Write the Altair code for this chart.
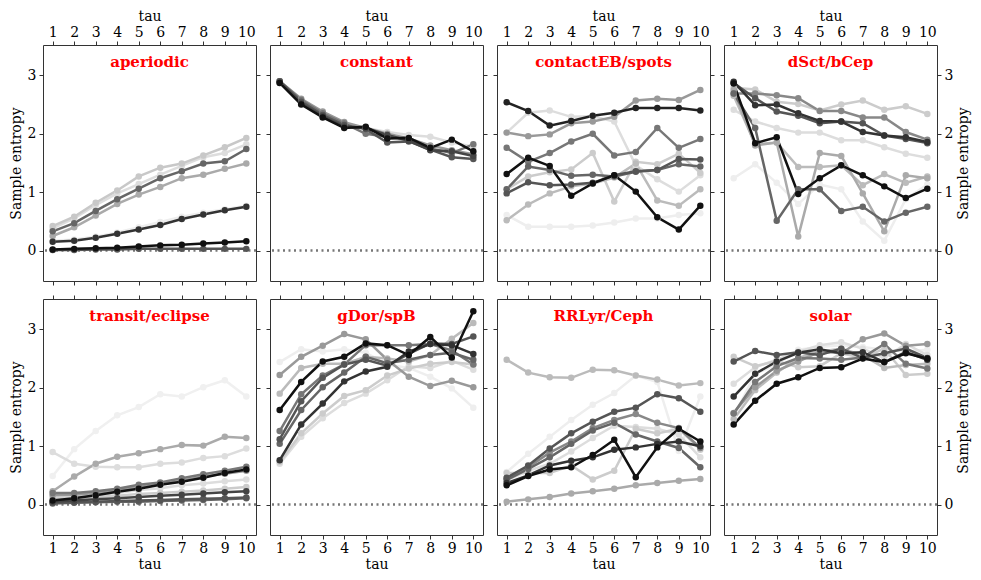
import altair as alt
import pandas as pd

TAU = [1, 2, 3, 4, 5, 6, 7, 8, 9, 10]
Y_TICKS = [0, 1, 2, 3]
PANELS = ["aperiodic", "constant", "contactEB/spots", "dSct/bCep",
          "transit/eclipse", "gDor/spB", "RRLyr/Ceph", "solar"]

aperiodic_shades = ["#eeeeee", "#dddddd", "#c8c8c8", "#aaaaaa", "#666666", "#333333", "#555555", "#111111"]
aperiodic_values = [
    [0.17, 0.19, 0.24, 0.31, 0.40, 0.49, 0.58, 0.65, 0.71, 0.77],
    [0.38, 0.55, 0.78, 0.98, 1.14, 1.30, 1.45, 1.60, 1.67, 1.82],
    [0.42, 0.58, 0.82, 1.03, 1.27, 1.42, 1.49, 1.63, 1.77, 1.93],
    [0.25, 0.40, 0.60, 0.80, 0.96, 1.09, 1.24, 1.30, 1.40, 1.49],
    [0.33, 0.47, 0.68, 0.88, 1.06, 1.24, 1.36, 1.49, 1.53, 1.74],
    [0.15, 0.17, 0.22, 0.29, 0.36, 0.44, 0.54, 0.62, 0.69, 0.75],
    [0.01, 0.01, 0.02, 0.02, 0.03, 0.03, 0.03, 0.03, 0.03, 0.03],
    [0.02, 0.03, 0.04, 0.05, 0.07, 0.09, 0.10, 0.12, 0.14, 0.16],
]

constant_shades = ["#dddddd", "#999999", "#777777", "#555555", "#444444", "#111111"]
constant_values = [
    [2.88, 2.55, 2.32, 2.16, 2.10, 2.03, 1.98, 1.95, 1.85, 1.78],
    [2.90, 2.60, 2.38, 2.20, 2.10, 2.00, 1.92, 1.80, 1.72, 1.65],
    [2.90, 2.58, 2.35, 2.18, 2.00, 1.95, 1.90, 1.75, 1.67, 1.82],
    [2.90, 2.55, 2.32, 2.15, 2.08, 1.85, 1.87, 1.73, 1.60, 1.57],
    [2.88, 2.52, 2.30, 2.12, 2.10, 1.98, 1.88, 1.72, 1.70, 1.62],
    [2.87, 2.50, 2.28, 2.10, 2.12, 1.92, 1.93, 1.76, 1.90, 1.70],
]

contact_shades = ["#eeeeee", "#dddddd", "#cccccc", "#bbbbbb", "#999999",
                  "#777777", "#666666", "#555555", "#222222", "#111111"]
contact_values = [
    [0.61, 0.41, 0.41, 0.41, 0.43, 0.48, 0.55, 0.55, 0.61, 0.64],
    [2.02, 2.36, 2.40, 2.29, 2.30, 2.21, 1.46, 1.22, 1.01, 1.29],
    [1.05, 1.27, 1.34, 1.39, 1.67, 0.84, 1.52, 1.48, 1.66, 1.33],
    [0.52, 0.79, 0.98, 1.10, 1.15, 1.25, 1.49, 0.86, 0.77, 1.05],
    [2.02, 1.96, 1.99, 2.18, 2.21, 2.29, 2.57, 2.60, 2.58, 2.75],
    [1.76, 1.52, 1.67, 1.87, 2.00, 1.63, 1.69, 2.10, 1.76, 1.91],
    [1.05, 1.44, 1.38, 1.28, 1.30, 1.27, 1.35, 1.38, 1.48, 1.44],
    [0.98, 1.17, 1.12, 1.13, 1.16, 1.29, 1.36, 1.38, 1.57, 1.56],
    [2.54, 2.39, 2.14, 2.22, 2.31, 2.36, 2.44, 2.44, 2.44, 2.40],
    [1.31, 1.59, 1.45, 0.94, 1.15, 1.29, 1.01, 0.57, 0.36, 0.77],
]

dsct_shades = ["#eeeeee", "#dddddd", "#cccccc", "#bbbbbb", "#aaaaaa",
               "#888888", "#666666", "#555555", "#333333", "#111111"]
dsct_values = [
    [1.24, 1.48, 1.16, 0.80, 1.13, 1.05, 0.50, 0.17, 0.88, 1.13],
    [2.41, 2.21, 2.10, 2.02, 2.02, 1.89, 1.89, 1.77, 1.66, 1.59],
    [2.79, 2.76, 2.55, 2.51, 2.40, 2.50, 2.57, 2.41, 2.47, 2.34],
    [2.65, 1.82, 1.85, 1.43, 1.43, 1.46, 1.12, 1.31, 1.16, 1.27],
    [2.75, 1.80, 1.85, 0.24, 1.67, 1.62, 0.98, 0.33, 1.29, 1.24],
    [2.69, 2.69, 2.66, 2.61, 2.39, 2.39, 2.28, 2.28, 2.03, 1.90],
    [2.69, 2.10, 0.51, 1.05, 1.05, 0.68, 0.75, 0.50, 0.65, 0.75],
    [2.87, 2.61, 2.38, 2.31, 2.18, 2.21, 2.18, 1.97, 1.91, 1.84],
    [2.89, 2.49, 2.50, 2.35, 2.22, 2.21, 2.03, 1.97, 1.94, 1.86],
    [2.86, 1.84, 1.94, 0.97, 1.24, 1.46, 1.29, 1.10, 0.90, 1.06],
]

transit_shades = ["#f0f0f0", "#dddddd", "#dddddd", "#cccccc", "#aaaaaa", "#999999",
                  "#777777", "#666666", "#555555", "#444444", "#111111"]
transit_values = [
    [0.49, 0.95, 1.26, 1.53, 1.67, 1.89, 1.85, 2.01, 2.13, 1.85],
    [0.90, 0.70, 0.65, 0.64, 0.64, 0.70, 0.72, 0.80, 0.83, 0.96],
    [0.12, 0.13, 0.16, 0.20, 0.25, 0.28, 0.33, 0.36, 0.40, 0.43],
    [0.10, 0.11, 0.13, 0.15, 0.18, 0.20, 0.22, 0.24, 0.27, 0.30],
    [0.23, 0.48, 0.70, 0.82, 0.88, 0.95, 1.02, 1.01, 1.16, 1.14],
    [0.16, 0.17, 0.20, 0.25, 0.30, 0.35, 0.41, 0.48, 0.53, 0.58],
    [0.20, 0.20, 0.23, 0.27, 0.34, 0.38, 0.45, 0.52, 0.58, 0.65],
    [0.02, 0.03, 0.04, 0.05, 0.05, 0.06, 0.07, 0.08, 0.09, 0.11],
    [0.03, 0.04, 0.05, 0.06, 0.07, 0.08, 0.09, 0.10, 0.11, 0.12],
    [0.05, 0.07, 0.09, 0.11, 0.13, 0.15, 0.17, 0.19, 0.21, 0.23],
    [0.07, 0.11, 0.16, 0.22, 0.27, 0.34, 0.39, 0.46, 0.54, 0.60],
]

gdor_shades = ["#eeeeee", "#dddddd", "#cccccc", "#bbbbbb", "#999999",
               "#777777", "#666666", "#555555", "#333333", "#111111"]
gdor_values = [
    [2.44, 2.66, 2.62, 2.66, 2.60, 2.40, 2.34, 2.19, 1.99, 1.66],
    [0.70, 1.16, 1.48, 1.74, 1.90, 2.13, 2.37, 2.34, 2.46, 2.31],
    [0.73, 1.22, 1.56, 1.86, 1.96, 2.21, 2.33, 2.41, 2.44, 2.40],
    [1.90, 2.34, 2.41, 2.41, 2.53, 2.50, 2.45, 2.56, 2.84, 3.11],
    [2.22, 2.53, 2.72, 2.92, 2.83, 2.48, 2.19, 2.03, 2.12, 2.01],
    [1.26, 1.89, 2.21, 2.40, 2.73, 2.73, 2.73, 2.75, 2.64, 2.40],
    [1.04, 1.62, 2.01, 2.26, 2.53, 2.42, 2.48, 2.56, 2.60, 2.48],
    [1.12, 1.77, 2.17, 2.40, 2.48, 2.38, 2.58, 2.76, 2.75, 2.88],
    [0.76, 1.37, 1.73, 2.11, 2.28, 2.36, 2.62, 2.75, 2.73, 2.58],
    [1.62, 2.10, 2.45, 2.53, 2.76, 2.73, 2.56, 2.87, 2.52, 3.31],
]

rrlyr_shades = ["#eeeeee", "#dddddd", "#cccccc", "#bbbbbb", "#aaaaaa",
                "#888888", "#666666", "#555555", "#333333", "#111111"]
rrlyr_values = [
    [0.56, 0.87, 1.16, 1.45, 1.71, 1.91, 2.21, 2.10, 0.92, 1.85],
    [0.42, 0.58, 0.70, 0.91, 1.14, 1.35, 1.33, 1.30, 1.20, 0.81],
    [0.54, 0.54, 0.54, 0.67, 0.43, 0.58, 1.30, 1.22, 1.30, 0.94],
    [2.48, 2.26, 2.18, 2.17, 2.31, 2.30, 2.21, 2.14, 2.04, 2.08],
    [0.05, 0.09, 0.13, 0.19, 0.23, 0.27, 0.33, 0.37, 0.41, 0.44],
    [0.45, 0.64, 0.89, 1.08, 1.31, 1.45, 1.55, 1.40, 1.31, 0.97],
    [0.42, 0.61, 0.81, 1.04, 1.27, 1.40, 1.20, 1.08, 0.97, 0.64],
    [0.46, 0.67, 0.96, 1.22, 1.42, 1.59, 1.66, 1.89, 1.82, 1.59],
    [0.37, 0.50, 0.67, 0.75, 0.81, 0.94, 0.98, 1.04, 1.08, 1.00],
    [0.33, 0.49, 0.60, 0.64, 0.85, 1.11, 0.47, 0.98, 1.30, 1.08],
]

solar_shades = ["#eeeeee", "#dddddd", "#cccccc", "#bbbbbb", "#999999",
                "#777777", "#555555", "#333333", "#111111"]
solar_values = [
    [1.51, 2.24, 2.40, 2.65, 2.70, 2.73, 2.70, 2.65, 2.62, 2.65],
    [2.07, 2.35, 2.48, 2.62, 2.73, 2.78, 2.67, 2.51, 2.75, 2.56],
    [2.53, 2.37, 2.46, 2.35, 2.37, 2.59, 2.51, 2.67, 2.22, 2.24],
    [1.46, 1.96, 2.26, 2.51, 2.62, 2.67, 2.56, 2.34, 2.39, 2.41],
    [1.57, 2.01, 2.29, 2.45, 2.62, 2.59, 2.83, 2.93, 2.72, 2.75],
    [1.56, 2.10, 2.37, 2.51, 2.50, 2.48, 2.52, 2.75, 2.41, 2.33],
    [2.45, 2.63, 2.56, 2.61, 2.56, 2.67, 2.51, 2.59, 2.67, 2.51],
    [1.85, 2.24, 2.45, 2.60, 2.66, 2.59, 2.61, 2.44, 2.61, 2.48],
    [1.37, 1.78, 2.07, 2.18, 2.34, 2.35, 2.50, 2.44, 2.59, 2.50],
]

PANEL_DATA = {
    "aperiodic": (aperiodic_shades, aperiodic_values),
    "constant": (constant_shades, constant_values),
    "contactEB/spots": (contact_shades, contact_values),
    "dSct/bCep": (dsct_shades, dsct_values),
    "transit/eclipse": (transit_shades, transit_values),
    "gDor/spB": (gdor_shades, gdor_values),
    "RRLyr/Ceph": (rrlyr_shades, rrlyr_values),
    "solar": (solar_shades, solar_values),
}

W, H = 213, 236
FONT = "DejaVu Serif"

x_scale = alt.Scale(domain=[0.55, 10.45], nice=False, zero=False)
y_scale = alt.Scale(domain=[-0.52, 3.52], nice=False, zero=False)


def x_axis(orient, labeled):
    if labeled:
        return alt.Axis(orient=orient, values=TAU, title="tau", labels=True,
                        labelPadding=2, titlePadding=2, labelFlush=False)
    return alt.Axis(orient=orient, values=TAU, title=None, labels=False)


def y_axis(orient, labeled):
    if labeled and orient == "left":
        return alt.Axis(orient=orient, values=Y_TICKS, title="Sample entropy", labels=True,
                        labelPadding=3, titlePadding=4, titleAngle=270, labelFlush=False)
    if labeled:
        return alt.Axis(orient=orient, values=Y_TICKS, title="Sample entropy", labels=True,
                        labelPadding=3, titlePadding=4, titleAngle=270, titleBaseline="top",
                        labelFlush=False)
    return alt.Axis(orient=orient, values=Y_TICKS, title=None, labels=False)


def make_panel(i, name):
    row, col = divmod(i, 4)
    shades, values = PANEL_DATA[name]
    recs = []
    for s, (shade, vals) in enumerate(zip(shades, values)):
        for t, v in zip(TAU, vals):
            recs.append({"series": s, "shade": shade, "tau": t, "value": v})
    d = pd.DataFrame(recs)

    zero = alt.Chart(pd.DataFrame({"y": [0]})).mark_rule(
        color="#777777", strokeWidth=2.5, strokeDash=[2, 3.5]
    ).encode(y=alt.Y("y:Q", scale=y_scale, axis=None))

    lines = alt.Chart(d).mark_line(strokeWidth=2.5).encode(
        x=alt.X("tau:Q", scale=x_scale, axis=x_axis("top", row == 0)),
        y=alt.Y("value:Q", scale=y_scale, axis=y_axis("left", col == 0)),
        color=alt.Color("shade:N", scale=None),
        detail="series:N",
        order="tau:Q",
    )
    points = alt.Chart(d).mark_circle(size=42, opacity=1).encode(
        x=alt.X("tau:Q", scale=x_scale, axis=x_axis("bottom", row == 1)),
        y=alt.Y("value:Q", scale=y_scale, axis=y_axis("right", col == 3)),
        color=alt.Color("shade:N", scale=None),
        detail="series:N",
    )
    title = alt.Chart(pd.DataFrame({"t": [name]})).mark_text(
        color="red", font=FONT, fontSize=15, fontWeight="bold",
        align="center", baseline="middle"
    ).encode(x=alt.value(W / 2), y=alt.value(17), text="t:N")

    return alt.layer(zero, lines, points, title).resolve_axis(
        x="independent", y="independent"
    ).properties(width=W, height=H)


panels = [make_panel(i, n) for i, n in enumerate(PANELS)]
row1 = alt.hconcat(*panels[:4], spacing=14, bounds="flush")
row2 = alt.hconcat(*panels[4:], spacing=14, bounds="flush")

chart = alt.vconcat(row1, row2, spacing=8).properties(
    padding=0
).configure_view(
    stroke="#333333", strokeWidth=1
).configure_axis(
    grid=False, domain=False, ticks=True, tickSize=4, tickWidth=1, tickColor="#333333",
    labelFont=FONT, labelFontSize=14, labelColor="black",
    titleFont=FONT, titleFontSize=14, titleFontWeight="normal", titleColor="black",
)

chart.save("out.html", embed_options={"renderer": "svg", "actions": False})
